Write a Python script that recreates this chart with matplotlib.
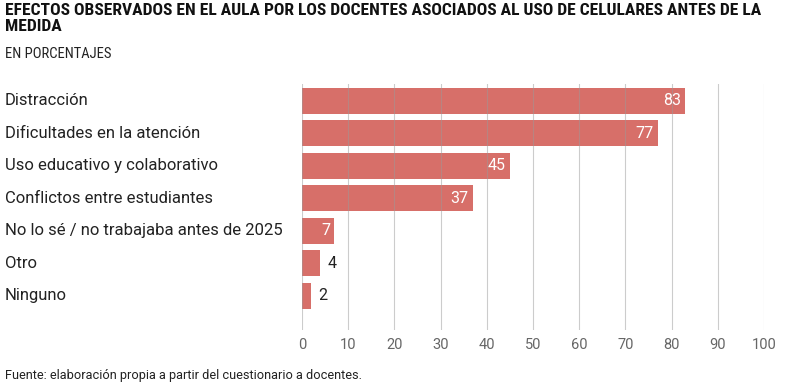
import matplotlib.pyplot as plt

plt.rcParams['font.family'] = ['Roboto', 'DejaVu Sans']

categorias = ['Distracción', 'Dificultades en la atención', 'Uso educativo y colaborativo',
              'Conflictos entre estudiantes', 'No lo sé / no trabajaba antes de 2025',
              'Otro', 'Ninguno']
porcentajes = [83, 77, 45, 37, 7, 4, 2]
ticks = [0, 10, 20, 30, 40, 50, 60, 70, 80, 90, 100]

fig = plt.figure(figsize=(7.91, 3.88), dpi=100)
ax = fig.add_axes([0.3818, 0.1495, 0.5841, 0.634])

pos = list(range(len(categorias)))
ax.barh(pos, porcentajes, height=0.8, color='#d76f69', zorder=2)
ax.set_xlim(0, 100)
ax.set_ylim(len(categorias) - 1 + 1.05, -0.52)
ax.set_xticks(ticks)
ax.set_xticklabels([str(t) for t in ticks], fontsize=10.5, color='#666666')
ax.set_yticks(pos)
ax.set_yticklabels([])
ax.tick_params(length=0, pad=6)
ax.grid(axis='x', color='#9a9a9a', linewidth=0.8, alpha=0.5, zorder=3)
ax.set_axisbelow(False)
for s in ax.spines.values():
    s.set_visible(False)

for i, (cat, v) in enumerate(zip(categorias, porcentajes)):
    ax.annotate(cat, xy=(5 / 791, i), xycoords=('figure fraction', 'data'),
                ha='left', va='center', fontsize=12, color='#222222')
    if v >= 5:
        ax.annotate(str(v), xy=(v, i), xytext=(-3, 0), textcoords='offset points',
                    ha='right', va='center', fontsize=11.5, color='white', zorder=4)
    else:
        ax.annotate(str(v), xy=(v, i), xytext=(5, 0), textcoords='offset points',
                    ha='left', va='center', fontsize=11.5, color='#222222', zorder=4)

narrow = ['Roboto Condensed', 'IBM Plex Sans Condensed', 'Roboto', 'DejaVu Sans']
fig.text(5 / 791, 1 - 3 / 388,
         'EFECTOS OBSERVADOS EN EL AULA POR LOS DOCENTES ASOCIADOS AL USO DE CELULARES ANTES DE LA\nMEDIDA',
         ha='left', va='top', fontsize=12.6, fontweight='bold', color='#111111',
         linespacing=1.12, family=narrow)
fig.text(5 / 791, 1 - 47 / 388, 'EN PORCENTAJES', ha='left', va='top', fontsize=10.5,
         color='#222222', family=narrow)
fig.text(5 / 791, 1 - 375 / 388, 'Fuente: elaboración propia a partir del cuestionario a docentes.',
         ha='left', va='center', fontsize=9.2, color='#222222')

fig.savefig('out.png', dpi=100)
